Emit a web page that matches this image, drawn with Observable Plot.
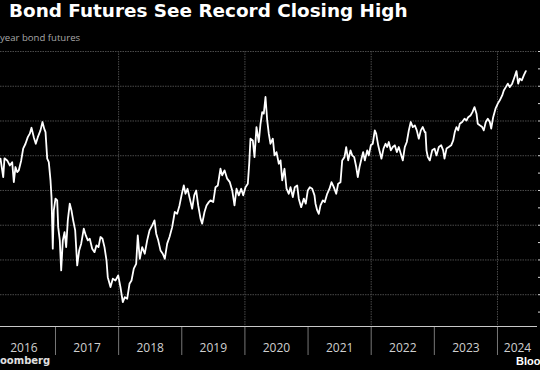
<!DOCTYPE html>
<html>
<head>
<meta charset="utf-8">
<script src="https://cdn.jsdelivr.net/npm/d3@7"></script>
<script src="https://cdn.jsdelivr.net/npm/@observablehq/plot@0.6"></script>
<style>
  html, body { margin: 0; padding: 0; background: #000; }
  body { width: 540px; height: 370px; position: relative; overflow: hidden; }
  #title { position: absolute; left: 9px; top: 0px; color: #fff; font: bold 18.4px "DejaVu Sans", sans-serif; white-space: nowrap; }
  #sub { position: absolute; left: 0; top: 31px; color: #a8a8a8; font: 9.6px "Open Sans", sans-serif; white-space: nowrap; }
  #chart { position: absolute; left: 0; top: 45px; }
  #srcL { position: absolute; left: 0; top: 355px; color: #e0e0e0; font: bold 10px "DejaVu Sans", sans-serif; white-space: nowrap; }
  #srcR { position: absolute; left: 516px; top: 355px; color: #fff; font: bold 11px "Liberation Sans", sans-serif; white-space: nowrap; }
</style>
</head>
<body>
<div id="title">Bond Futures See Record Closing High</div>
<div id="sub">year bond futures</div>
<div id="chart"></div>
<div id="srcL">oomberg</div>
<div id="srcR">Bloo</div>
<script>
// Time as decimal years
const dates = [
  2016.129, 2016.172, 2016.192, 2016.235, 2016.276, 2016.314, 2016.340, 2016.366, 2016.393, 2016.419,
  2016.457, 2016.488, 2016.525, 2016.561, 2016.593, 2016.620, 2016.656, 2016.688, 2016.720, 2016.762,
  2016.794, 2016.821, 2016.842, 2016.869, 2016.894, 2016.921, 2016.937, 2016.957, 2016.973, 2017.000,
  2017.027, 2017.043, 2017.068, 2017.090, 2017.116, 2017.143, 2017.169, 2017.195, 2017.226, 2017.253,
  2017.280, 2017.312, 2017.344, 2017.375, 2017.407, 2017.448, 2017.480, 2017.512, 2017.543, 2017.581,
  2017.618, 2017.649, 2017.681, 2017.713, 2017.744, 2017.776, 2017.808, 2017.828, 2017.871, 2017.908,
  2017.950, 2017.993, 2018.029, 2018.066, 2018.098, 2018.136, 2018.172, 2018.204, 2018.240, 2018.278,
  2018.303, 2018.335, 2018.373, 2018.414, 2018.452, 2018.489, 2018.532, 2018.568, 2018.595, 2018.627,
  2018.663, 2018.699, 2018.731, 2018.769, 2018.806, 2018.848, 2018.889, 2018.927, 2018.964, 2018.996,
  2019.032, 2019.059, 2019.091, 2019.127, 2019.165, 2019.197, 2019.228, 2019.260, 2019.297, 2019.323,
  2019.360, 2019.392, 2019.428, 2019.455, 2019.498, 2019.534, 2019.571, 2019.613, 2019.640, 2019.677,
  2019.719, 2019.761, 2019.799, 2019.835, 2019.867, 2019.903, 2019.941, 2019.973, 2020.009, 2020.046,
  2020.068, 2020.088, 2020.125, 2020.152, 2020.183, 2020.220, 2020.247, 2020.274, 2020.299, 2020.326,
  2020.353, 2020.378, 2020.405, 2020.442, 2020.469, 2020.500, 2020.537, 2020.564, 2020.591, 2020.627,
  2020.659, 2020.695, 2020.722, 2020.759, 2020.790, 2020.828, 2020.853, 2020.891, 2020.933, 2020.964,
  2020.996, 2021.028, 2021.066, 2021.102, 2021.118, 2021.145, 2021.170, 2021.197, 2021.234, 2021.265,
  2021.303, 2021.340, 2021.371, 2021.408, 2021.446, 2021.477, 2021.514, 2021.541, 2021.577, 2021.604,
  2021.636, 2021.672, 2021.699, 2021.731, 2021.763, 2021.788, 2021.815, 2021.846, 2021.873, 2021.899,
  2021.937, 2021.962, 2021.994, 2022.025, 2022.057, 2022.079, 2022.111, 2022.136, 2022.163, 2022.195,
  2022.227, 2022.254, 2022.279, 2022.311, 2022.342, 2022.374, 2022.406, 2022.437, 2022.469, 2022.501,
  2022.532, 2022.564, 2022.596, 2022.627, 2022.659, 2022.691, 2022.722, 2022.754, 2022.786, 2022.817,
  2022.849, 2022.860, 2022.876, 2022.897, 2022.928, 2022.966, 2023.003, 2023.034, 2023.071, 2023.109,
  2023.140, 2023.161, 2023.193, 2023.229, 2023.267, 2023.299, 2023.324, 2023.351, 2023.378, 2023.403,
  2023.441, 2023.478, 2023.509, 2023.536, 2023.573, 2023.604, 2023.636, 2023.668, 2023.688, 2023.720,
  2023.758, 2023.783, 2023.815, 2023.847, 2023.879, 2023.901, 2023.932, 2023.969, 2024.005, 2024.037,
  2024.075, 2024.100, 2024.132, 2024.164, 2024.195, 2024.233, 2024.270, 2024.301, 2024.328, 2024.354,
  2024.385, 2024.417, 2024.449
];
// Futures price
const prices = [
  99.83, 98.77, 99.85, 99.73, 99.44, 99.63, 98.48, 99.35, 99.06, 99.16,
  99.73, 100.41, 100.69, 101.07, 101.27, 101.61, 101.07, 100.69, 101.07, 101.46,
  101.94, 101.56, 101.36, 99.83, 99.63, 98.58, 97.62, 94.65, 96.85, 97.53,
  97.43, 95.89, 95.13, 93.40, 95.13, 95.60, 94.74, 96.28, 97.24, 96.85,
  96.28, 95.70, 93.69, 94.55, 94.94, 95.80, 95.41, 95.13, 95.22, 94.65,
  94.45, 94.84, 94.74, 95.32, 95.22, 94.74, 93.97, 93.01, 92.44, 92.92,
  92.82, 93.11, 92.44, 91.57, 91.86, 91.77, 92.63, 92.82, 93.50, 93.78,
  95.41, 94.07, 94.74, 94.36, 95.13, 95.70, 95.99, 96.28, 95.51, 95.13,
  94.55, 94.36, 94.07, 94.94, 95.32, 95.89, 96.76, 96.66, 97.14, 97.72,
  98.29, 97.81, 98.10, 97.53, 96.95, 97.72, 98.00, 97.14, 96.38, 96.09,
  96.76, 97.14, 97.33, 97.43, 97.33, 98.19, 98.29, 99.25, 98.87, 99.16,
  98.68, 98.48, 98.00, 97.14, 98.10, 97.72, 98.10, 97.72, 98.19, 98.39,
  99.54, 100.98, 100.88, 99.92, 101.65, 100.79, 101.84, 102.51, 102.42, 103.38,
  102.03, 101.27, 100.69, 100.98, 100.02, 100.21, 99.54, 99.73, 98.58, 99.25,
  98.10, 97.81, 98.19, 97.62, 98.19, 98.29, 97.53, 97.04, 97.53, 97.24,
  98.00, 98.19, 98.10, 97.72, 97.24, 96.85, 96.66, 97.14, 97.43, 97.33,
  97.81, 98.10, 98.48, 98.19, 97.81, 98.39, 98.48, 99.73, 99.92, 100.50,
  99.73, 100.31, 100.02, 99.92, 99.35, 98.77, 99.35, 99.83, 100.21, 99.73,
  100.31, 100.02, 100.60, 100.69, 101.46, 101.27, 100.60, 100.21, 99.83, 100.41,
  100.69, 100.50, 100.79, 100.31, 100.50, 100.60, 100.21, 100.50, 100.12, 99.73,
  100.50, 100.79, 101.46, 101.94, 101.65, 101.75, 101.46, 100.98, 101.46, 101.65,
  101.36, 101.36, 100.31, 99.92, 99.73, 100.31, 100.41, 100.02, 100.50, 100.60,
  100.31, 99.83, 100.41, 100.50, 100.60, 100.88, 101.36, 101.65, 101.46, 101.84,
  101.94, 102.13, 102.03, 102.22, 102.32, 102.51, 102.80, 102.42, 101.84, 101.75,
  101.65, 101.46, 101.94, 102.13, 101.94, 101.56, 102.22, 102.71, 103.00, 103.19,
  103.47, 103.76, 103.95, 104.15, 103.95, 104.15, 104.53, 104.87, 104.15, 104.44,
  104.34, 104.63, 104.87
];
const yearLabels = ["2016", "2017", "2018", "2019", "2020", "2021", "2022", "2023", "2024"];
const yearBoundaries = [2017, 2018, 2019, 2020, 2021, 2022, 2023, 2024];
const gridYears = [2018, 2020, 2022, 2024];
const gridValues = [92, 94, 96, 98, 100, 102, 104, 106];
const minorValues = [91, 92, 93, 94, 95, 96, 97, 98, 99, 100, 101, 102, 103, 104, 105, 106];

const data = dates.map((t, i) => ({t, v: prices[i]}));
const xDomain = [2016.129, 2024.634];
const yDomain = [90.17, 106.0];
const labelData = yearLabels.map((s, i) => {
  const y0 = +s;
  const mid = i === yearLabels.length - 1 ? (y0 + xDomain[1]) / 2 : y0 + 0.5;
  return {x: mid, label: s};
});

const chart = Plot.plot({
  width: 540,
  height: 313,
  marginLeft: 0,
  marginRight: 3,
  marginTop: 6,
  marginBottom: 32,
  style: {background: "#000", color: "#ccc", fontFamily: "'Open Sans', sans-serif", fontSize: "12px", overflow: "visible"},
  x: {type: "linear", domain: xDomain, label: null},
  y: {domain: yDomain, label: null},
  marks: [
    Plot.ruleY(gridValues, {stroke: "#4a4a4a", strokeWidth: 1, strokeDasharray: "1.5,1"}),
    Plot.ruleX(gridYears, {stroke: "#4a4a4a", strokeWidth: 1, strokeDasharray: "1.5,1"}),
    Plot.axisX({ticks: yearBoundaries, tickSize: 29, tickFormat: () => "", stroke: "#777", anchor: "bottom", label: null}),
    Plot.axisY({ticks: minorValues, tickSize: 3, tickFormat: () => "", stroke: "#ddd", anchor: "right", label: null}),
    Plot.ruleY([yDomain[0]], {stroke: "#c8c8c8", strokeWidth: 1.2}),
    Plot.line(data, {x: "t", y: "v", stroke: "#fff", strokeWidth: 1.8, strokeLinejoin: "round"}),
    Plot.text(labelData, {x: "x", text: "label", frameAnchor: "bottom", dy: 22, lineAnchor: "middle", fill: "#d0d0d0", fontSize: 12})
  ]
});
document.getElementById("chart").appendChild(chart);
</script>
</body>
</html>
